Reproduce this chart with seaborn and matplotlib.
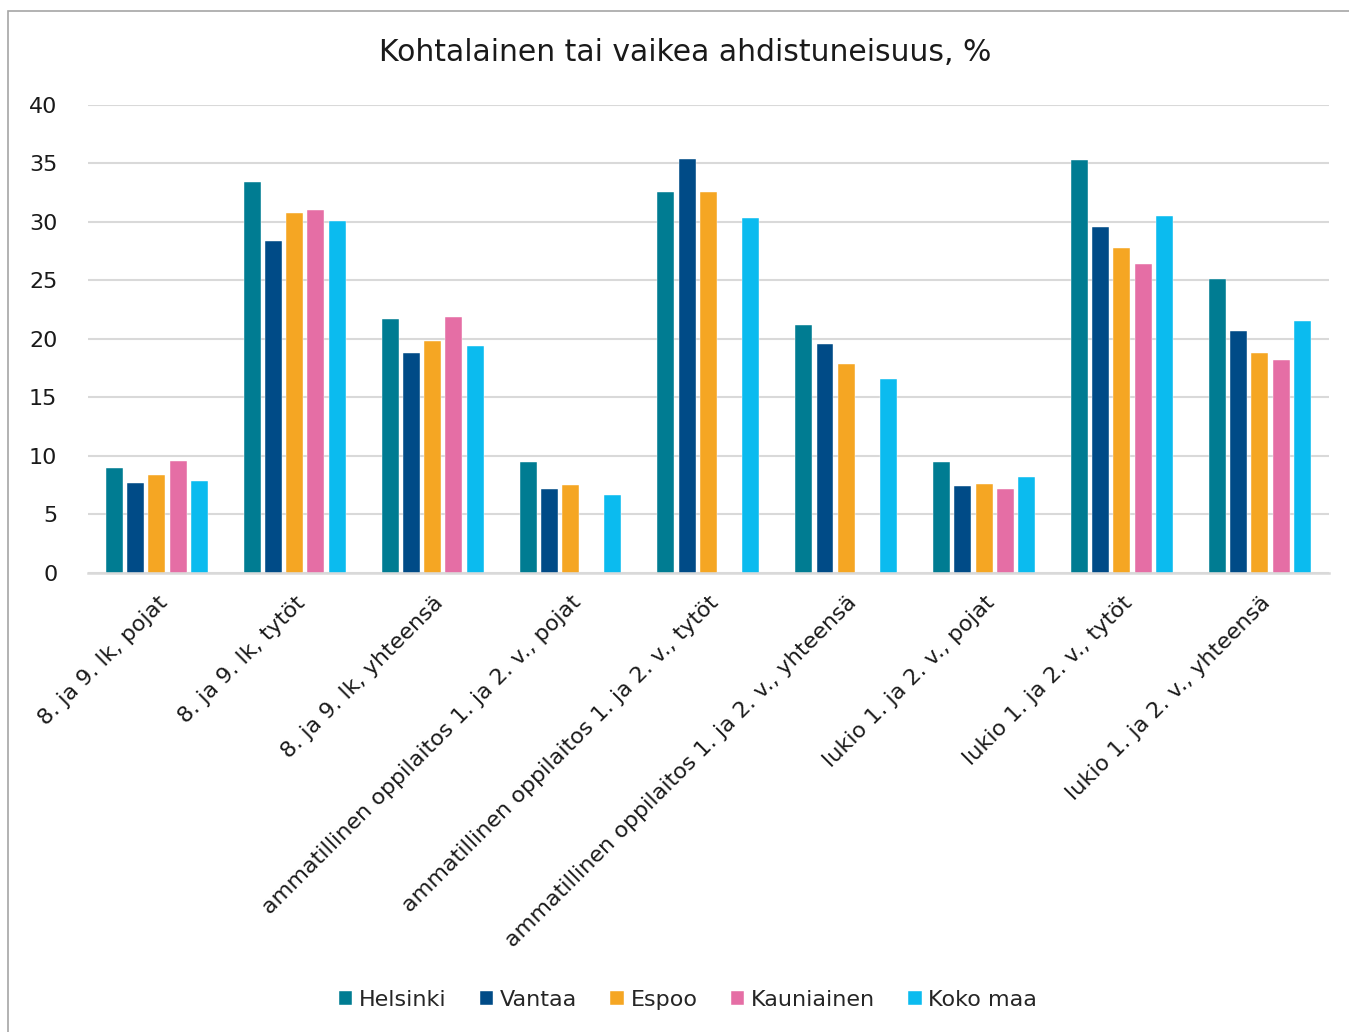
import numpy as np
import pandas as pd
import matplotlib
matplotlib.use("Agg")
import matplotlib.pyplot as plt
import seaborn as sns
from matplotlib.patches import Rectangle

# Kategoriat ja sarjat
categories = [
    "8. ja 9. lk, pojat",
    "8. ja 9. lk, tytöt",
    "8. ja 9. lk, yhteensä",
    "ammatillinen oppilaitos 1. ja 2. v., pojat",
    "ammatillinen oppilaitos 1. ja 2. v., tytöt",
    "ammatillinen oppilaitos 1. ja 2. v., yhteensä",
    "lukio 1. ja 2. v., pojat",
    "lukio 1. ja 2. v., tytöt",
    "lukio 1. ja 2. v., yhteensä",
]
series = ["Helsinki", "Vantaa", "Espoo", "Kauniainen", "Koko maa"]

helsinki = [9.0, 33.4, 21.7, 9.5, 32.6, 21.2, 9.5, 35.3, 25.1]
vantaa = [7.7, 28.4, 18.8, 7.2, 35.4, 19.6, 7.4, 29.6, 20.7]
espoo = [8.4, 30.8, 19.8, 7.5, 32.6, 17.9, 7.6, 27.8, 18.8]
kauniainen = [9.6, 31.0, 21.9, np.nan, np.nan, np.nan, 7.2, 26.4, 18.2]
koko_maa = [7.9, 30.1, 19.4, 6.7, 30.3, 16.6, 8.2, 30.5, 21.5]

colors = ["#007C92", "#004B87", "#F5A623", "#E56EA5", "#0BBBEF"]

rows = []
for name, vals in zip(series, [helsinki, vantaa, espoo, kauniainen, koko_maa]):
    for cat, v in zip(categories, vals):
        rows.append({"ryhma": cat, "alue": name, "arvo": v})
df = pd.DataFrame(rows).dropna()

sns.set_style("white")
plt.rcParams["font.family"] = ["DejaVu Sans"]

fig = plt.figure(figsize=(13.49, 10.32), dpi=100)
ax = fig.add_axes([0.0652, 0.4448, 0.9198, 0.4535])

sns.barplot(data=df, x="ryhma", y="arvo", hue="alue", order=categories,
            hue_order=series, palette=colors, saturation=1, width=0.77,
            gap=0.2, edgecolor="white", linewidth=0.3, ax=ax, legend=True)

ax.set_ylim(0, 40)
ax.set_xlim(-0.5, len(categories) - 0.5)
ax.set_yticks(range(0, 41, 5))
ax.yaxis.grid(True, color="#D9D9D9", linewidth=1.5)
ax.set_axisbelow(True)
for s in ["top", "right", "left"]:
    ax.spines[s].set_visible(False)
ax.spines["bottom"].set_color("#D9D9D9")
ax.spines["bottom"].set_linewidth(1.8)
ax.set_xlabel("")
ax.set_ylabel("")
ax.tick_params(axis="both", length=0, labelsize=16, colors="#1a1a1a")
ax.tick_params(axis="y", pad=22)
ax.tick_params(axis="x", pad=14)
for lbl in ax.get_xticklabels():
    lbl.set_rotation(45)
    lbl.set_ha("right")
    lbl.set_rotation_mode("anchor")

fig.text(0.508, 0.949, "Kohtalainen tai vaikea ahdistuneisuus, %",
         ha="center", va="center", fontsize=21.5, color="#1a1a1a")

handles, labels = ax.get_legend_handles_labels()
ax.legend_.remove()
fig.legend(handles, labels, loc="center", bbox_to_anchor=(0.51, 0.031),
           ncol=5, frameon=False, fontsize=16, handlelength=0.6,
           handleheight=0.6, handletextpad=0.3, columnspacing=1.5)

# reunaviiva (ylä ja vasen)
fig.patches.append(Rectangle((8 / 1349, -0.1), 1.2, 1 - 11 / 1032 + 0.1,
                             transform=fig.transFigure, fill=False,
                             edgecolor="#A6A6A6", linewidth=1.2))

fig.savefig("out.png", dpi=100)
plt.close(fig)
